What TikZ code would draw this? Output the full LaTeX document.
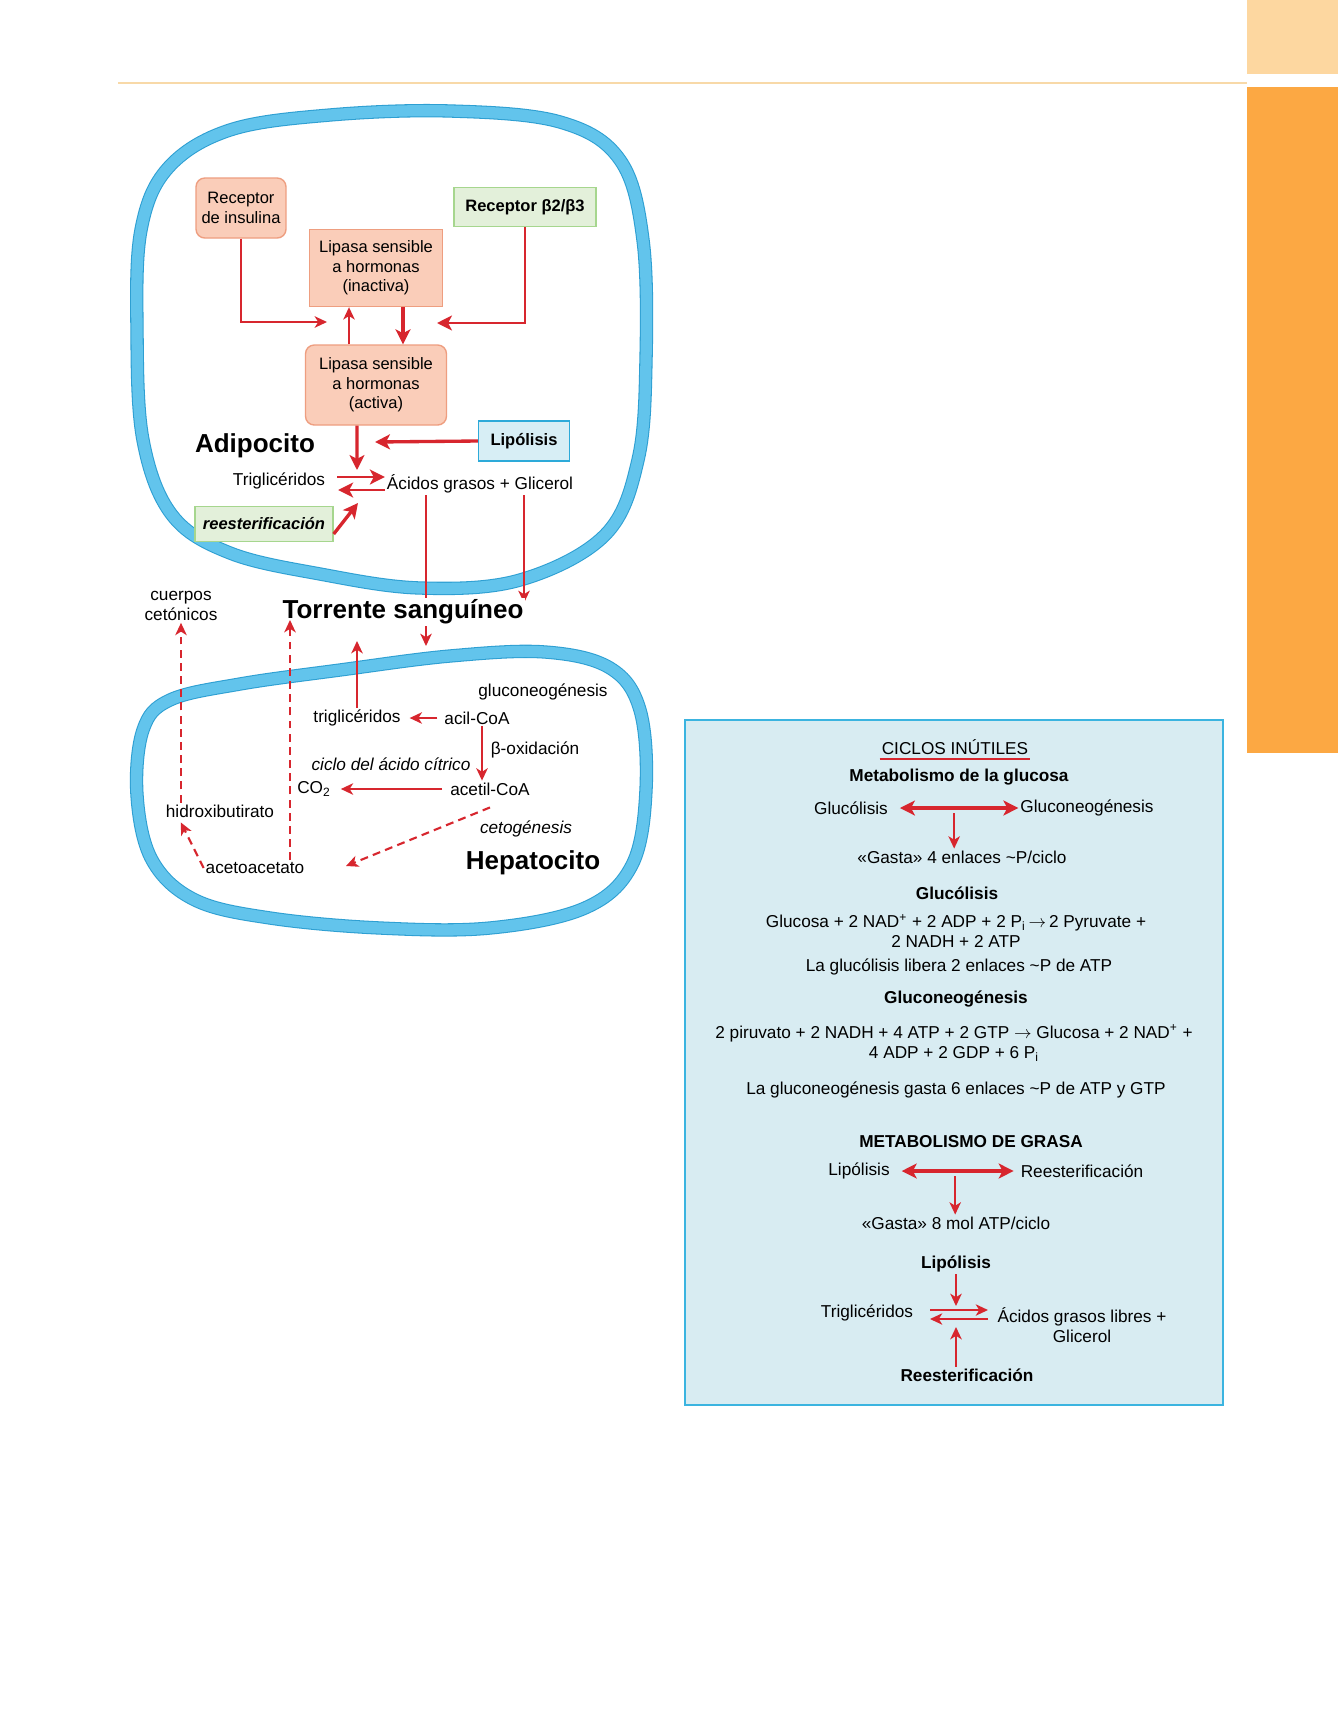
\documentclass[tikz,border=0pt]{standalone}
\usepackage{fontspec}
\setmainfont{Liberation Sans}
\usetikzlibrary{arrows.meta,positioning,calc}

\definecolor{arrowred}{HTML}{D7262E}
\definecolor{cellblue}{HTML}{62C4EC}
\definecolor{celledge}{HTML}{2E9FD2}
\definecolor{pinkfill}{HTML}{FACDB9}
\definecolor{pinkedge}{HTML}{EE9E80}
\definecolor{greenfill}{HTML}{E3F0DA}
\definecolor{greenedge}{HTML}{A6D68E}
\definecolor{bluefill}{HTML}{D7EEF5}
\definecolor{blueedge}{HTML}{2DAAD9}
\definecolor{panelfill}{HTML}{D8ECF2}
\definecolor{paneledge}{HTML}{3BB4E0}
\definecolor{taborange}{HTML}{FCA843}
\definecolor{tablight}{HTML}{FDD7A0}
\definecolor{rulecol}{HTML}{F8D9A8}

\begin{document}
\begin{tikzpicture}[
  x=0.02cm, y=-0.02cm,
  lbl/.style={font=\fontsize{9.8}{11.4}\selectfont, inner sep=1pt, align=center},
  title/.style={font=\fontsize{14.8}{17}\selectfont\bfseries, inner sep=1pt},
  boxtxt/.style={font=\fontsize{9.4}{11.2}\selectfont, align=center, inner sep=2pt, line width=0.8pt},
  pinkbox/.style={boxtxt, draw=pinkedge, fill=pinkfill},
  greenbox/.style={boxtxt, draw=greenedge, fill=greenfill, font=\fontsize{9.4}{11.2}\selectfont\bfseries},
  bluebox/.style={boxtxt, draw=blueedge, fill=bluefill, font=\fontsize{9.4}{11.2}\selectfont\bfseries},
  membrane/.style={draw=celledge, line width=0.6pt, double=cellblue, double distance=6.4pt},
  flow/.style={draw=arrowred, line width=1.2pt, -{Stealth[length=7pt, width=6.5pt, inset=2pt]}},
  bigflow/.style={draw=arrowred, line width=1.9pt, -{Stealth[length=8.5pt, width=8.5pt, inset=2.2pt]}},
  dashflow/.style={flow, dash pattern=on 4.5pt off 3pt},
  twoway/.style={bigflow, {Stealth[length=8.5pt, width=8.5pt, inset=2.2pt]}-{Stealth[length=8.5pt, width=8.5pt, inset=2.2pt]}},
]

\useasboundingbox (0,0) rectangle (1338,1711);
\fill[white] (0,0) rectangle (1338,1711);

% page decoration
\fill[tablight] (1247,0) rectangle (1338,74);
\fill[taborange] (1247,87) rectangle (1338,753);
\draw[rulecol, line width=1pt] (118,83) -- (1247,83);

% === cell membranes ===
\draw[membrane] plot[smooth cycle, tension=0.6] coordinates {
  (137,330) (141,230) (168,168) (230,130) (330,115) (450,111) (560,122) (620,160)
  (643,240) (646,360) (638,460) (605,535) (520,580) (420,588) (320,574) (230,553)
  (172,515) (143,440)};
\draw[membrane] plot[smooth cycle, tension=0.6] coordinates {
  (137,795) (143,730) (170,700) (240,684) (340,670) (450,656) (545,652) (610,668)
  (640,710) (646,790) (632,865) (585,908) (490,928) (380,928) (270,918) (195,900)
  (152,860)};

% === Adipocito ===
\node[pinkbox, rounded corners=5pt, minimum width=1.8cm, minimum height=1.2cm] (insr) at (241,208) {Receptor\\de insulina};
\node[pinkbox, minimum width=2.66cm, minimum height=1.54cm] (hslin) at (376,268) {Lipasa sensible\\a hormonas\\(inactiva)};
\node[greenbox, minimum width=2.84cm, minimum height=0.78cm] (betar) at (525,207) {Receptor β2/β3};
\node[pinkbox, rounded corners=5pt, minimum width=2.82cm, minimum height=1.6cm] (hslact) at (376,385) {Lipasa sensible\\a hormonas\\(activa)};
\node[bluebox, minimum width=1.82cm, minimum height=0.8cm] (lipol) at (524,441) {Lipólisis};
\node[title] (adipo) at (255,446) {Adipocito};
\node[lbl] (tgA) at (279,481) {Triglicéridos};
\node[lbl] (agg) at (480,484) {Ácidos grasos + Glicerol};
\node[greenbox, minimum width=2.76cm, minimum height=0.7cm, font=\fontsize{9.4}{11.2}\selectfont\bfseries\itshape] (reest) at (264,524) {reesterificación};

\coordinate (insend) at (327,322);
\coordinate (betaend) at (437,323);
\coordinate (actend) at (357,470);
\coordinate (lipend) at (375,442);
\coordinate (reestend) at (358,503);
\coordinate (fa) at (426,646);
\coordinate (fg) at (524,603);

\draw[flow] (insr.south) |- (insend);
\draw[bigflow, line width=1.6pt] (betar.south) |- (betaend);
\draw[flow, line width=1.4pt] ([xshift=-0.54cm]hslact.north) -- ([xshift=-0.54cm]hslin.south);
\draw[bigflow] ([xshift=0.54cm]hslin.south) -- ([xshift=0.54cm]hslact.north);
\draw[bigflow] ([xshift=-0.38cm]hslact.south) -- (actend);
\draw[bigflow] (lipol.west) -- (lipend);
\draw[bigflow, line width=1.5pt] ($(tgA.east)+(10,-4)$) -- ($(agg.west)+(0,-7)$);
\draw[bigflow, line width=1.5pt] ($(agg.west)+(0,6)$) -- ($(tgA.east)+(11,9)$);
\draw[bigflow] ($(reest.east)+(0,10)$) -- (reestend);
\draw[flow, line width=1pt] (agg.south -| fa) -- (fa);
\draw[flow, line width=1pt] (agg.south -| fg) -- (fg);

% === Hepatocito ===
\node[lbl] (cuerpos) at (181,606) {cuerpos\\cetónicos};
\node[title, fill=white] (torrente) at (403,612) {Torrente sanguíneo};
\node[lbl] (gluco) at (543,692) {gluconeogénesis};
\node[lbl] (tgH) at (357,718) {triglicéridos};
\node[lbl] (acil) at (477,718) {acil-CoA};
\node[lbl] (boxid) at (535,750) {β-oxidación};
\node[lbl, font=\fontsize{9.8}{11.4}\selectfont\itshape] (ciclo) at (391,764) {ciclo del ácido cítrico};
\node[lbl] (acetil) at (490,789) {acetil-CoA};
\node[lbl] (co2) at (314,789) {CO\textsubscript{2}};
\node[lbl] (hidroxi) at (220,811) {hidroxibutirato};
\node[lbl, font=\fontsize{9.8}{11.4}\selectfont\itshape] (cetog) at (526,829) {cetogénesis};
\node[lbl] (acetoac) at (255,868) {acetoacetato};
\node[title] (hepato) at (533,863) {Hepatocito};

\coordinate (tgup) at (357,641);
\coordinate (ketoend) at (346,866);
\coordinate (ketoup) at (290,620);

\draw[flow] (tgH.north) -- (tgup);
\draw[flow] ([xshift=-0.1cm]acil.west) -- ([xshift=0.14cm]tgH.east);
\draw[flow] ([xshift=0.1cm]acil.south) -- ([xshift=0.1cm]acil.south |- acetil.north);
\draw[flow] ([xshift=-0.12cm]acetil.west) -- ([xshift=0.16cm]co2.east);
\draw[dashflow] ([yshift=-0.2cm]acetil.south) -- (ketoend);
\draw[dashflow] (acetoac.west) -- ([xshift=0.34cm,yshift=-0.06cm]hidroxi.south west);
\draw[dashflow] (hidroxi.north -| cuerpos.south) -- (cuerpos.south);
\draw[dashflow] (acetoac.north -| ketoup) -- (ketoup);

% === Ciclos inutiles panel ===
\draw[draw=paneledge, fill=panelfill, line width=1.3pt] (685,720) rectangle (1223,1405);

\node[lbl] (ciclos) at (955,747) {CICLOS INÚTILES};
\draw[arrowred, line width=1pt] ([yshift=-0.05cm]ciclos.south west) -- ([yshift=-0.05cm]ciclos.south east);
\node[lbl, font=\fontsize{9.8}{11.4}\selectfont\bfseries] (metglu) at (959,777) {Metabolismo de la glucosa};
\node[lbl] (glucol) at (851,808) {Glucólisis};
\node[lbl] (gneo) at (1087,808) {Gluconeogénesis};
\node[lbl] (gasta1) at (962,857) {«Gasta» 4 enlaces \textasciitilde P/ciclo};
\node[lbl, font=\fontsize{9.8}{11.4}\selectfont\bfseries] (hglucol) at (957,893) {Glucólisis};
\node[lbl] (eqglu) at (956,931) {Glucosa + 2 NAD\textsuperscript{+} + 2 ADP + 2 P\textsubscript{i}\,$\rightarrow$\,2 Pyruvate +\\2 NADH + 2 ATP};
\node[lbl] (libera) at (959,967) {La glucólisis libera 2 enlaces \textasciitilde P de ATP};
\node[lbl, font=\fontsize{9.8}{11.4}\selectfont\bfseries] (hgneo) at (956,999) {Gluconeogénesis};
\node[lbl] (eqgneo) at (954,1043) {2 piruvato + 2 NADH + 4 ATP + 2 GTP $\rightarrow$ Glucosa + 2 NAD\textsuperscript{+} +\\4 ADP + 2 GDP + 6 P\textsubscript{i}};
\node[lbl] (gasta6) at (956,1090) {La gluconeogénesis gasta 6 enlaces \textasciitilde P de ATP y GTP};
\node[lbl, font=\fontsize{9.8}{11.4}\selectfont\bfseries] (metgra) at (971,1142) {METABOLISMO DE GRASA};
\node[lbl] (lipo2) at (859,1171) {Lipólisis};
\node[lbl] (reest2) at (1082,1171) {Reesterificación};
\node[lbl] (gasta8) at (956,1223) {«Gasta» 8 mol ATP/ciclo};
\node[lbl, font=\fontsize{9.8}{11.4}\selectfont\bfseries] (hlipo) at (956,1264) {Lipólisis};
\node[lbl] (tg2) at (867,1313) {Triglicéridos};
\node[lbl] (agl) at (1082,1325) {Ácidos grasos libres +\\Glicerol};
\node[lbl, font=\fontsize{9.8}{11.4}\selectfont\bfseries] (hreest) at (967,1375) {Reesterificación};

\coordinate (mid1) at ($(glucol.east)!0.5!(gneo.west)$);
\coordinate (mid2) at ($(lipo2.east)!0.5!(reest2.west)$);
\coordinate (eqmid) at (956,1315);

\draw[twoway] ([xshift=0.2cm]glucol.east) -- (gneo.west);
\draw[flow] ([yshift=-0.1cm]mid1) -- (mid1 |- gasta1.north);
\draw[twoway] ([xshift=0.2cm]lipo2.east) -- ([xshift=-0.1cm]reest2.west);
\draw[flow] ([yshift=-0.1cm]mid2) -- (mid2 |- gasta8.north);
\draw[flow] (hlipo.south -| eqmid) -- ([yshift=0.18cm]eqmid);
\draw[flow] (hreest.north -| eqmid) -- ([yshift=-0.24cm]eqmid);
\draw[flow, line width=0.8pt] ([xshift=-0.52cm,yshift=0.1cm]eqmid) -- ([xshift=0.64cm,yshift=0.1cm]eqmid);
\draw[flow, line width=0.8pt] ([xshift=0.64cm,yshift=-0.08cm]eqmid) -- ([xshift=-0.52cm,yshift=-0.08cm]eqmid);

\end{tikzpicture}
\end{document}
